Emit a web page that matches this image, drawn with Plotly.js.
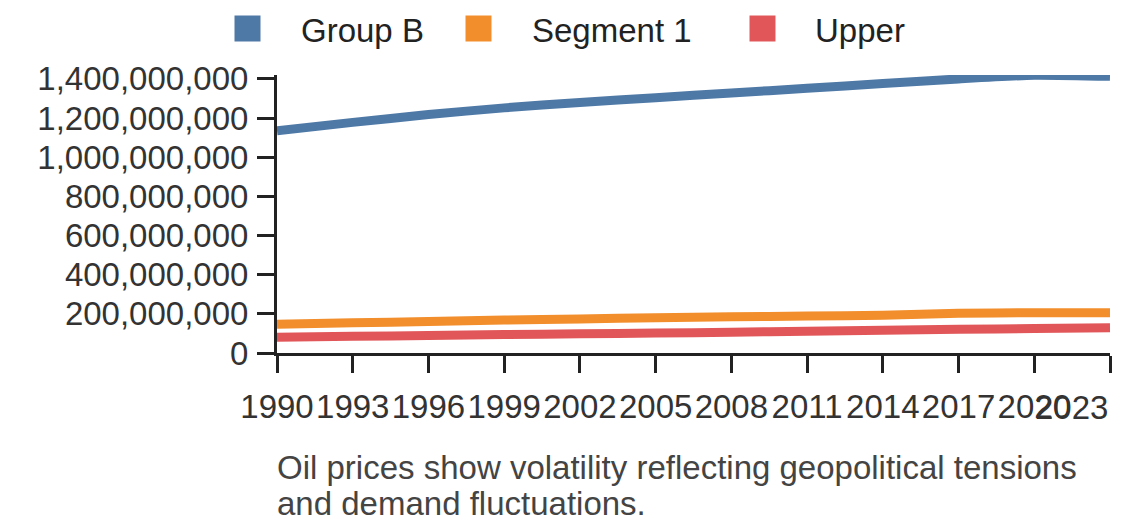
<!DOCTYPE html>
<html>
<head>
<meta charset="utf-8">
<script src="https://cdn.plot.ly/plotly-3.0.1.min.js"></script>
<style>
  html, body { margin: 0; padding: 0; background: #fff; }
  #chart { width: 1140px; height: 528px; }
</style>
</head>
<body>
<div id="chart"></div>
<script>
var years = [1990, 1993, 1996, 1999, 2002, 2005, 2008, 2011, 2014, 2017, 2020, 2023];
var groupB = [1135e6, 1178e6, 1218e6, 1252e6, 1280e6, 1304e6, 1328e6, 1352e6, 1376e6, 1400e6, 1419e6, 1413e6];
var segment1 = [147e6, 154e6, 161e6, 168e6, 174e6, 180e6, 185e6, 189e6, 193e6, 203e6, 206e6, 206e6];
var upper = [80e6, 85e6, 89e6, 94e6, 98e6, 102e6, 106e6, 111e6, 116e6, 121e6, 125e6, 129e6];
var seriesNames = ["Group B", "Segment 1", "Upper"];
var seriesColors = ["#4e79a7", "#f28e2b", "#e15759"];
var yTicks = [0, 200e6, 400e6, 600e6, 800e6, 1000e6, 1200e6, 1400e6];
var caption = ["Oil prices show volatility reflecting geopolitical tensions", "and demand fluctuations."];

// plot box in pixels
var L = 277, R = 30, T = 75, B = 175;
var W = 1140 - L - R, H = 528 - T - B;
function px(x) { return (x - L) / W; }
function py(y) { return (528 - B - y) / H; }

var font = "Liberation Sans, Arial, sans-serif";
var values = [groupB, segment1, upper];

var traces = values.map(function (v, i) {
  return {
    x: years,
    y: v,
    type: "scatter",
    mode: "lines",
    name: seriesNames[i],
    line: { color: seriesColors[i], width: 9, shape: "spline", smoothing: 0.6 },
    showlegend: false,
    hoverinfo: "x+y+name"
  };
});

// legend drawn by hand so the squares keep their size
var legendSquareX = [247.5, 478.5, 762.5];
var legendTextX = [299, 530, 813];
var legendY = 28.5;
var shapes = [];
var annotations = [];
seriesNames.forEach(function (n, i) {
  shapes.push({
    type: "rect", xref: "paper", yref: "paper",
    x0: px(legendSquareX[i] - 13), x1: px(legendSquareX[i] + 13),
    y0: py(legendY + 13), y1: py(legendY - 13),
    fillcolor: seriesColors[i], line: { width: 0 }
  });
  annotations.push({
    text: n, xref: "paper", yref: "paper",
    x: px(legendTextX[i]), y: py(legendY + 2),
    xanchor: "left", yanchor: "middle", showarrow: false,
    font: { family: font, size: 33, color: "#222" }
  });
});

// last x label is pulled in so it ends at the axis
var tickText = years.map(function (y, i) { return i == years.length - 1 ? "" : String(y); });
annotations.push({
  text: String(years[years.length - 1]), xref: "x", yref: "paper",
  x: years[years.length - 1], y: py(407), xanchor: "right", yanchor: "middle",
  showarrow: false, font: { family: font, size: 33, color: "#333" }
});

caption.forEach(function (line, i) {
  annotations.push({
    text: line, xref: "paper", yref: "paper",
    x: px(L - 2), y: py(467 + i * 36), xanchor: "left", yanchor: "middle",
    showarrow: false, font: { family: font, size: 33, color: "#444" }
  });
});

var layout = {
  width: 1140,
  height: 528,
  margin: { l: L, r: R, t: T, b: B },
  paper_bgcolor: "#fff",
  plot_bgcolor: "#fff",
  showlegend: false,
  font: { family: font, size: 33, color: "#333" },
  xaxis: {
    range: [1990, 2023],
    tickmode: "array",
    tickvals: years,
    ticktext: tickText,
    tickangle: 0,
    showgrid: false,
    zeroline: false,
    showline: true,
    linecolor: "#222",
    linewidth: 3,
    ticks: "outside",
    ticklen: 17,
    tickwidth: 3,
    tickcolor: "#222",
    ticklabelstandoff: 5,
    tickfont: { family: font, size: 33, color: "#333" }
  },
  yaxis: {
    range: [0, 1420e6],
    tickmode: "array",
    tickvals: yTicks,
    tickformat: ",d",
    showgrid: false,
    zeroline: false,
    showline: true,
    linecolor: "#222",
    linewidth: 3,
    ticks: "outside",
    ticklen: 17,
    tickwidth: 3,
    tickcolor: "#222",
    ticklabelstandoff: 2,
    tickfont: { family: font, size: 33, color: "#333" }
  },
  shapes: shapes,
  annotations: annotations
};

Plotly.newPlot("chart", traces, layout, { displayModeBar: false, staticPlot: true });
</script>
</body>
</html>
